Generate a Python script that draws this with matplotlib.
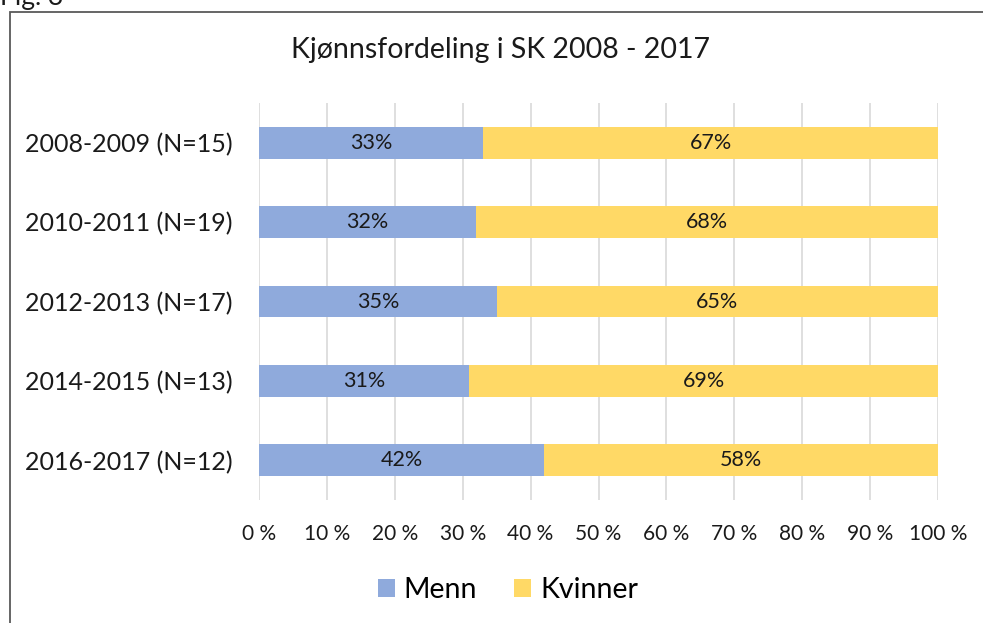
import matplotlib.pyplot as plt
from matplotlib.patches import Rectangle

plt.rcParams['font.family'] = ['Lato', 'DejaVu Sans']

categories = ['2008-2009 (N=15)', '2010-2011 (N=19)', '2012-2013 (N=17)',
              '2014-2015 (N=13)', '2016-2017 (N=12)']
menn = [33, 32, 35, 31, 42]
kvinner = [67, 68, 65, 69, 58]
xticks = [0, 10, 20, 30, 40, 50, 60, 70, 80, 90, 100]

W, H = 983, 623
fig = plt.figure(figsize=(W / 100, H / 100), dpi=100)
ax = fig.add_axes([259 / W, 1 - 500 / H, (938 - 259) / W, (500 - 103) / H])

ypos = list(range(len(categories)))
ax.barh(ypos, menn, height=0.4, color='#8FAADC', label='Menn', zorder=2)
ax.barh(ypos, kvinner, left=menn, height=0.4, color='#FFD966', label='Kvinner', zorder=2)

for i in ypos:
    ax.text(menn[i] / 2, i, f'{menn[i]}%', ha='center', va='center', fontsize=15.5, color='#1a1a1a', zorder=3)
    ax.text(menn[i] + kvinner[i] / 2, i, f'{kvinner[i]}%', ha='center', va='center', fontsize=15.5, color='#1a1a1a', zorder=3)

ax.set_xlim(0, 100)
ax.set_ylim(len(categories) - 0.5, -0.5)
ax.set_yticks(ypos)
ax.set_yticklabels(categories, fontsize=18)
ax.set_xticks(xticks)
ax.set_xticklabels([f'{t} %' for t in xticks], fontsize=15)
ax.tick_params(axis='both', length=0, colors='#1a1a1a')
ax.tick_params(axis='x', pad=17)
ax.tick_params(axis='y', pad=19)
ax.grid(axis='x', color='#D9D9D9', linewidth=1.2, zorder=0)
for s in ax.spines.values():
    s.set_visible(False)

fig.text(500 / W, 1 - 50 / H, 'Kjønnsfordeling i SK 2008 - 2017', ha='center', va='center', fontsize=20.5, color='#1a1a1a')
fig.text(0, 1 - 5 / H, 'Fig. 3', ha='left', va='baseline', fontsize=19, color='#1a1a1a')

fig.legend(loc='center', bbox_to_anchor=(508 / W, 1 - 590 / H), ncol=2, frameon=False,
           fontsize=20.5, handlelength=0.6, handleheight=0.6, handletextpad=0.3, columnspacing=1.3)

fig.patches.append(Rectangle((10 / W, -0.1), 1.2, 1 - 12 / H + 0.1, transform=fig.transFigure,
                             fill=False, edgecolor='#595959', linewidth=1.3, clip_on=False))

fig.savefig('out.png', dpi=100)
